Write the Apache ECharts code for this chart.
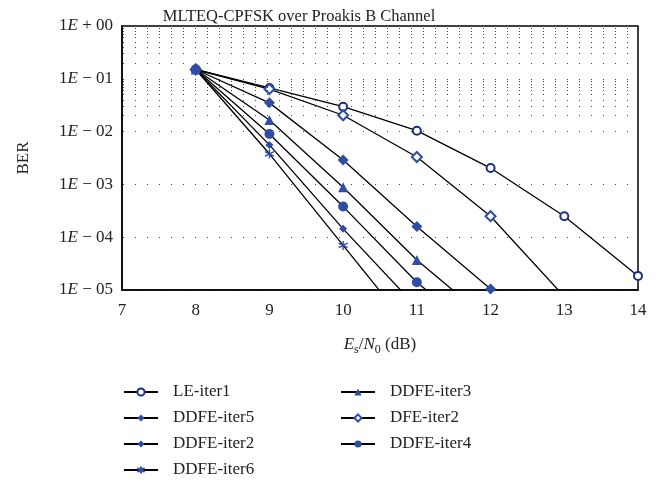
<!DOCTYPE html>
<html>
<head>
<meta charset="utf-8">
<script src="https://cdn.jsdelivr.net/npm/echarts@6/dist/echarts.min.js"></script>
<style>
  html, body { margin: 0; padding: 0; background: #fff; }
  #chart { width: 669px; height: 482px; }
</style>
</head>
<body>
<div id="chart"></div>
<script>
// Es/N0 points (dB)
const xValues = [8, 9, 10, 11, 12, 13, 14];

// BER values
const leIter1   = [0.15, 0.067, 0.0296, 0.0104, 0.00204, 0.00025, 0.0000185];
const ddfeIter5 = [0.15, 0.0056, 0.000144, 0.0000047];
const ddfeIter2 = [0.15, 0.035, 0.0029, 0.00016, 0.0000105];
const ddfeIter6 = [0.15, 0.0038, 0.00007, 0.0000013];
const ddfeIter3 = [0.15, 0.0166, 0.00088, 0.000037, 0.0000025];
const dfeIter2  = [0.15, 0.064, 0.0204, 0.0033, 0.00025, 0.0000075];
const ddfeIter4 = [0.15, 0.009, 0.00038, 0.000014, 0.000001];

const yTickLabels = ['1E + 00', '1E \u2212 01', '1E \u2212 02', '1E \u2212 03', '1E \u2212 04', '1E \u2212 05'];
const xTickLabels = ['7', '8', '9', '10', '11', '12', '13', '14'];

const FONT = 'Liberation Serif';
const BLUE = '#2d4ea2';
const NAVY = '#1f2d86';

window.onload = init;

function init() {
    let chart = echarts.init(document.getElementById('chart'));

    function pts(arr) {
        return arr.map((v, i) => [xValues[i], v]);
    }

    // minor log grid lines (2..9 x 10^k), dotted
    let minorLines = [];
    for (let e = -5; e < 0; e++) {
        for (let k = 2; k <= 9; k++) {
            minorLines.push({ yAxis: k * Math.pow(10, e) });
        }
    }

    function serie(name, data, symbol, size, color, extra) {
        let s = {
            name: name,
            type: 'line',
            data: pts(data),
            symbol: symbol,
            symbolSize: size,
            lineStyle: { color: '#000', width: 1.3 },
            itemStyle: { color: color },
            emphasis: { disabled: true },
            z: 3
        };
        return Object.assign(s, extra || {});
    }

    let dotted = { color: '#444', width: 1, type: [1, 11], dashOffset: 11 };
    let legendText = { fontFamily: FONT, fontSize: 17, color: '#222', lineHeight: 20, padding: [0, 0, 0, 10] };

    let options = {
        animation: false,
        title: {
            text: 'MLTEQ-CPFSK over Proakis B Channel',
            left: 294,
            textAlign: 'center',
            top: 3,
            textStyle: { fontFamily: FONT, fontSize: 16.5, fontWeight: 'normal', color: '#222' }
        },
        grid: {
            left: 122, right: 31, top: 26, height: 264,
            show: true, borderColor: '#000', borderWidth: 1.5, backgroundColor: 'transparent'
        },
        legend: [
            {
                orient: 'vertical',
                left: 123, top: 382, height: 120, padding: 0,
                itemWidth: 34, itemHeight: 9, itemGap: 6,
                data: ['LE-iter1', 'DDFE-iter5', 'DDFE-iter2', 'DDFE-iter6'],
                textStyle: legendText
            },
            {
                orient: 'vertical',
                left: 340, top: 382, height: 120, padding: 0,
                itemWidth: 34, itemHeight: 9, itemGap: 6,
                data: ['DDFE-iter3', 'DFE-iter2', 'DDFE-iter4'],
                textStyle: legendText
            }
        ],
        xAxis: {
            type: 'value',
            min: 7, max: 14, interval: 1,
            name: '{i|E}{sub|s}{n|/}{i|N}{sub|0}{n| (dB)}',
            nameLocation: 'middle',
            nameGap: 45,
            nameTextStyle: {
                fontFamily: FONT, fontSize: 17, color: '#222',
                rich: {
                    i: { fontFamily: FONT, fontSize: 17, fontStyle: 'italic', color: '#222', lineHeight: 20 },
                    n: { fontFamily: FONT, fontSize: 17, color: '#222', lineHeight: 20 },
                    sub: { fontFamily: FONT, fontSize: 12, color: '#222', lineHeight: 20, padding: [9, 0, 0, 0] }
                }
            },
            axisLine: { show: true, lineStyle: { color: '#000', width: 1.5 } },
            axisTick: { show: false },
            splitLine: { show: false },
            axisLabel: {
                margin: 12,
                fontFamily: FONT, fontSize: 17, color: '#222',
                formatter: v => xTickLabels[Math.round(v) - 7]
            }
        },
        yAxis: {
            type: 'log',
            logBase: 10,
            min: 0.00001, max: 1, interval: 1,
            name: 'BER',
            nameLocation: 'middle',
            nameRotate: 90,
            nameGap: 90,
            nameTextStyle: { fontFamily: FONT, fontSize: 17, color: '#222' },
            axisLine: { show: true, lineStyle: { color: '#000', width: 1.5 } },
            axisTick: { show: false },
            splitLine: { show: true, lineStyle: dotted },
            axisLabel: {
                margin: 9,
                fontFamily: FONT, fontSize: 17, color: '#222',
                formatter: v => {
                    let e = Math.round(-Math.log10(v));
                    let s = yTickLabels[e] || '';
                    return s.replace('E', '{i|E}');
                },
                rich: {
                    i: { fontFamily: FONT, fontSize: 17, fontStyle: 'italic', color: '#222' }
                }
            }
        },
        series: [
            {
                name: 'grid',
                type: 'line',
                data: [],
                silent: true,
                z: 1,
                markLine: {
                    silent: true,
                    symbol: 'none',
                    label: { show: false },
                    lineStyle: dotted,
                    emphasis: { disabled: true },
                    data: minorLines
                }
            },
            serie('LE-iter1', leIter1, 'emptyCircle', 8, NAVY, { itemStyle: { color: NAVY, borderWidth: 1.3 } }),
            serie('DDFE-iter5', ddfeIter5, 'diamond', 8, BLUE),
            serie('DDFE-iter2', ddfeIter2, 'diamond', 11, BLUE),
            serie('DDFE-iter6', ddfeIter6, 'path://M5,0L5,10M0.7,2.5L9.3,7.5M0.7,7.5L9.3,2.5', 9, BLUE,
                { itemStyle: { color: BLUE, borderColor: BLUE, borderWidth: 1.4 } }),
            serie('DDFE-iter3', ddfeIter3, 'triangle', 10, BLUE),
            serie('DFE-iter2', dfeIter2, 'emptyDiamond', 10, BLUE, { itemStyle: { color: BLUE, borderWidth: 1.3 } }),
            serie('DDFE-iter4', ddfeIter4, 'circle', 10, BLUE)
        ]
    };

    chart.setOption(options);
}
</script>
</body>
</html>
